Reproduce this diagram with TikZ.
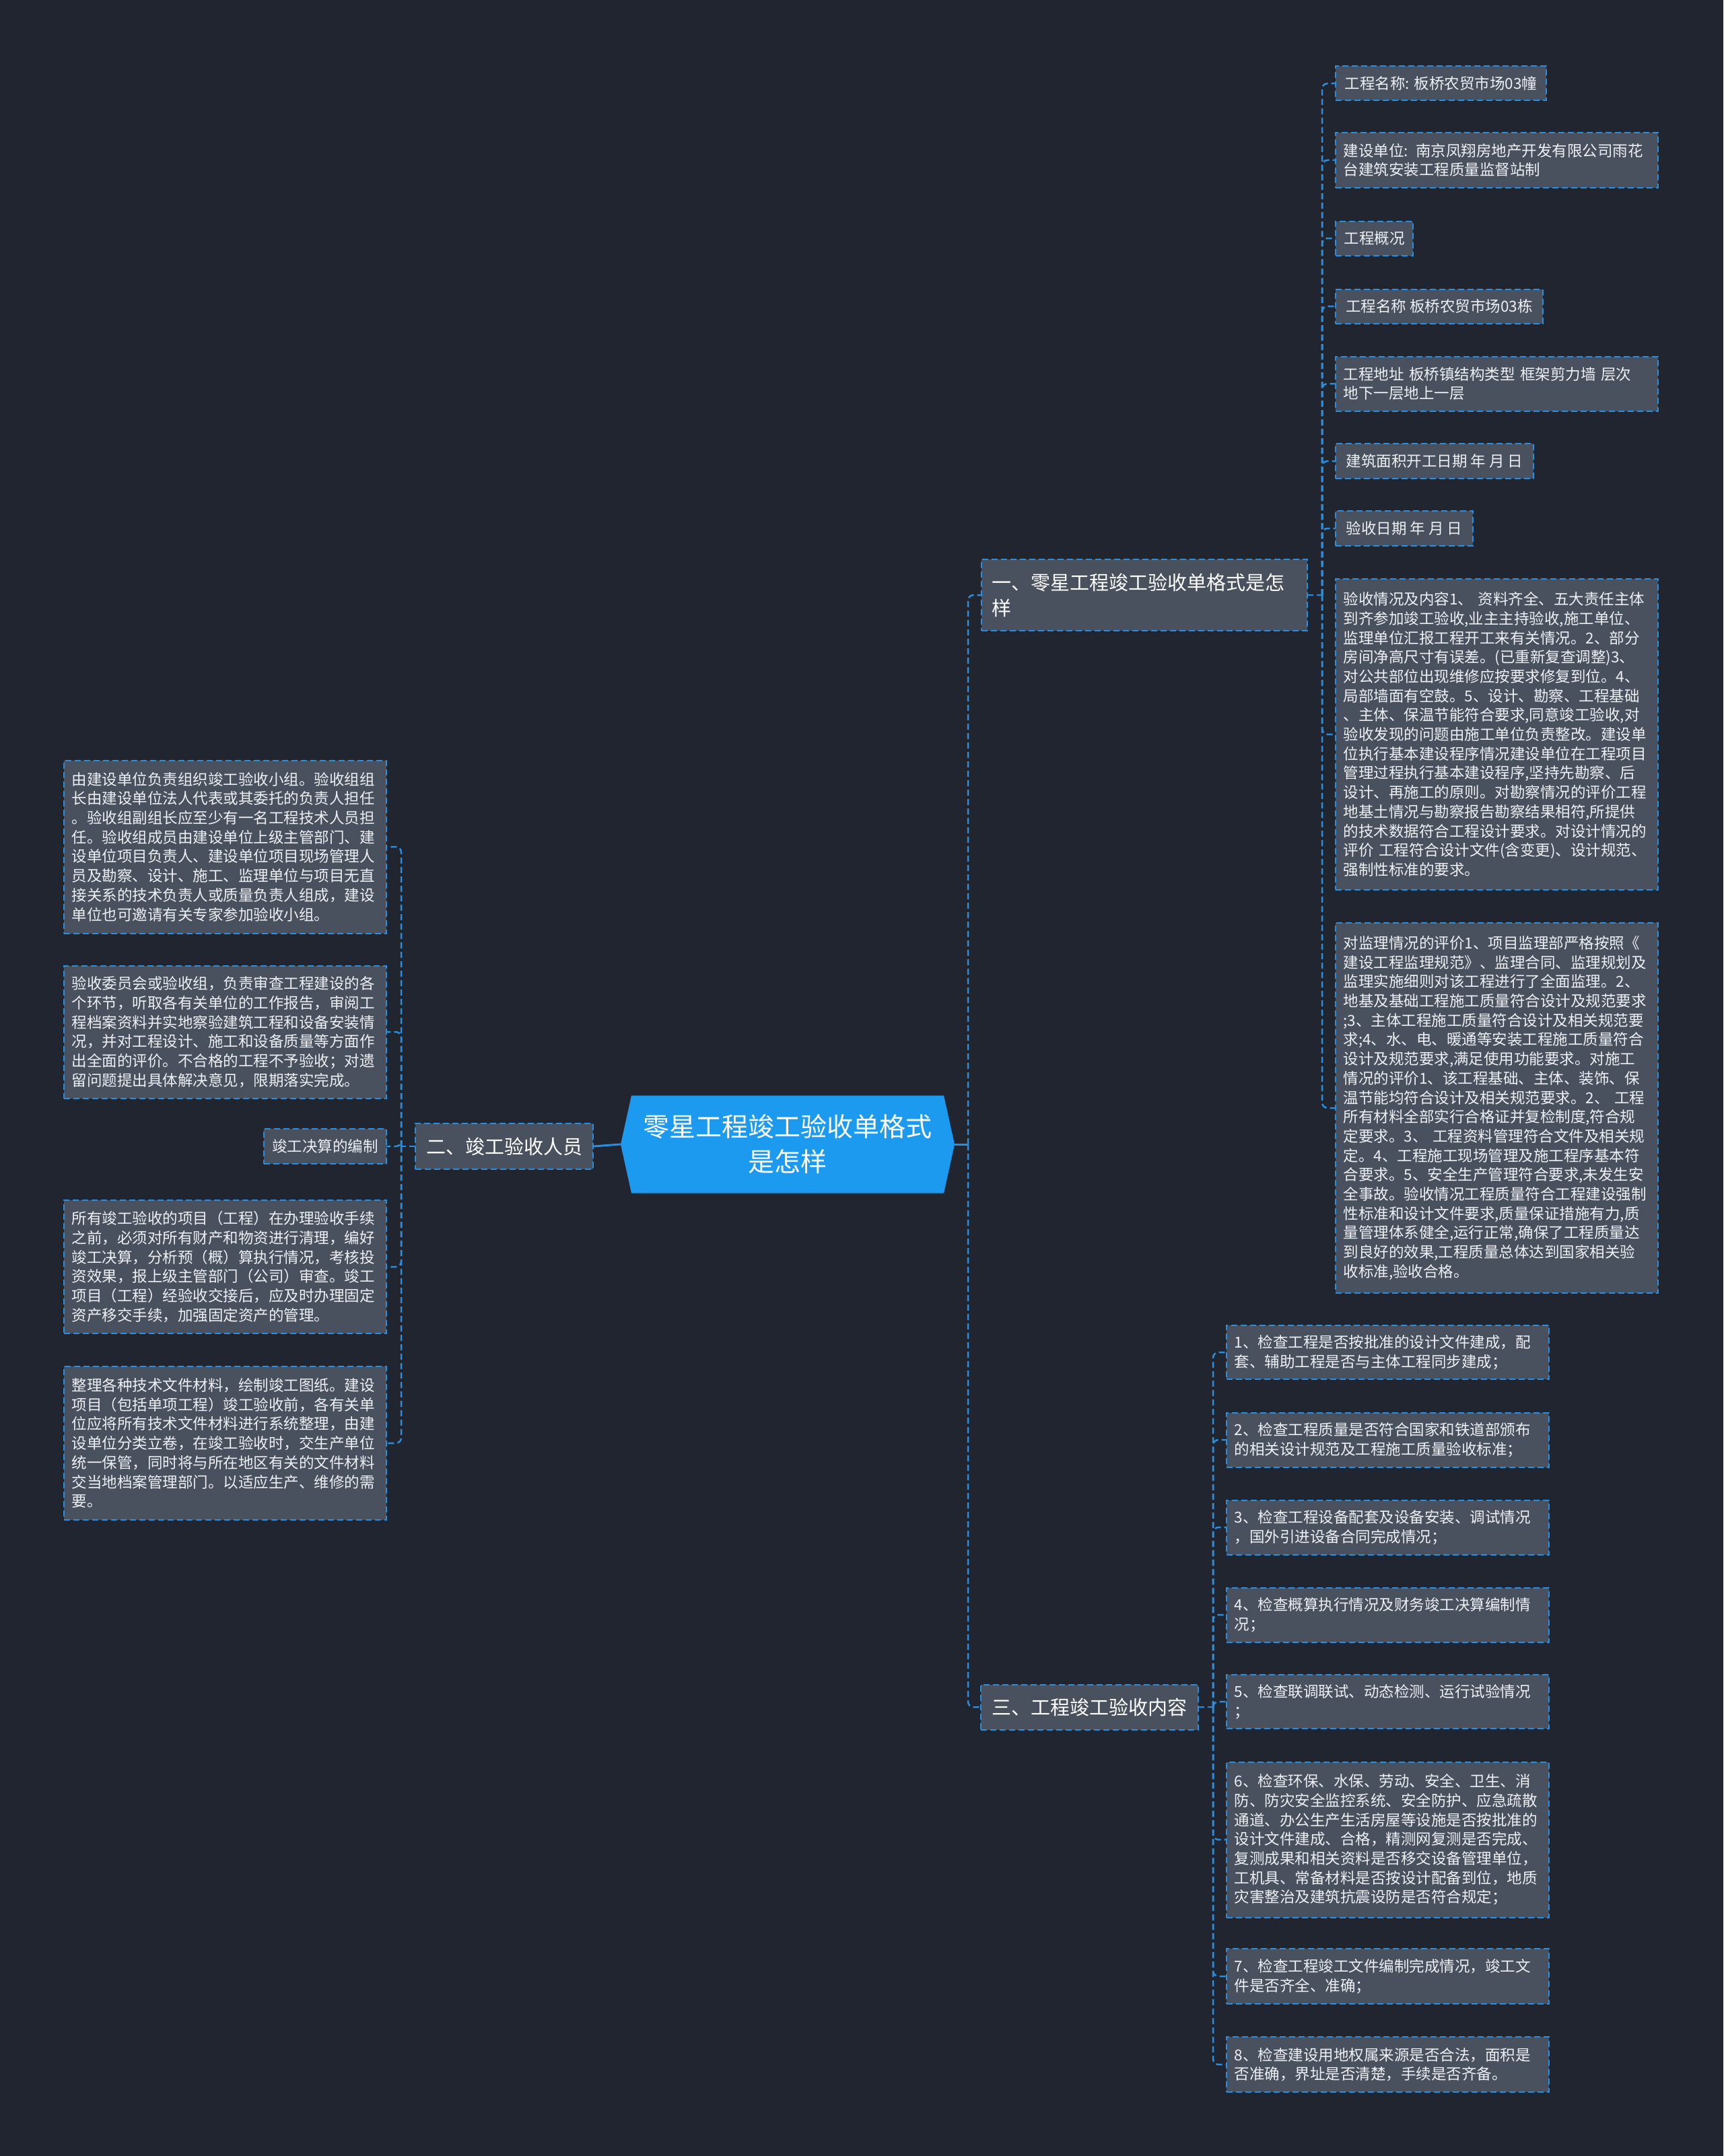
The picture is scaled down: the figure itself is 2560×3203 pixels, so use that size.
\documentclass[tikz,border=0pt]{standalone}
\usepackage{fontspec}
\setmainfont{Noto Sans CJK SC}
\usetikzlibrary{calc}
\definecolor{bg}{RGB}{33,37,48}
\definecolor{nodefill}{RGB}{73,80,94}
\definecolor{edgeblue}{RGB}{40,142,224}
\definecolor{rootfill}{RGB}{27,154,240}
\definecolor{txt}{RGB}{238,240,244}
\begin{document}
\begin{tikzpicture}[x=1pt,y=-1pt,
  leaf/.style={draw=edgeblue, line width=2pt, dash pattern=on 9pt off 5pt, fill=nodefill,
    text=txt, inner xsep=11.5pt, inner ysep=0pt, outer sep=0pt,
    font=\fontsize{22.5}{28.7}\selectfont, align=left},
  wideleaf/.style={leaf, text width=456pt},
  branch/.style={leaf, font=\fontsize{29}{38}\selectfont, inner xsep=15pt, text=white},
  conn/.style={draw=edgeblue, line width=2.5pt, dash pattern=on 9pt off 5pt, rounded corners=8pt},
  solidconn/.style={draw=edgeblue, line width=3pt},
]
\path[fill=bg] (0,0) rectangle (2560,3203);
\useasboundingbox (0,0) rectangle (2560,3203);

% root
\node[minimum width=496pt, minimum height=145pt, inner sep=0pt, outer sep=0pt] (root) at (1170,1700) {};
\fill[rootfill] (root.west) -- ($(root.north west)+(16,0)$) -- ($(root.north east)+(-16,0)$) -- (root.east)
  -- ($(root.south east)+(-16,0)$) -- ($(root.south west)+(16,0)$) -- cycle;
\node[text=white, align=center, font=\fontsize{39}{52}\selectfont] (roottext) at (root.center) {零星工程竣工验收单格式\\是怎样};

% branches
\node[branch, anchor=west, text width=454pt, minimum height=106pt] (b1) at (1458,884) {一、零星工程竣工验收单格式是怎\\样};
\node[branch, anchor=east, minimum width=264pt, minimum height=68pt] (b2) at (881,1703) {二、竣工验收人员};
\node[branch, anchor=west, minimum width=323pt, minimum height=67pt] (b3) at (1457,2536) {三、工程竣工验收内容};

% branch 1 leaves
\node[leaf, anchor=west, minimum width=313pt, minimum height=51pt] (a1) at (1984,124) {工程名称: 板桥农贸市场03幢};
\node[wideleaf, anchor=west, minimum height=82pt] (a2) at (1984,238) {建设单位: 南京凤翔房地产开发有限公司雨花\\台建筑安装工程质量监督站制};
\node[leaf, anchor=west, minimum width=115pt, minimum height=51pt] (a3) at (1984,354) {工程概况};
\node[leaf, anchor=west, minimum width=308pt, minimum height=51pt] (a4) at (1984,455) {工程名称 板桥农贸市场03栋};
\node[wideleaf, anchor=west, minimum height=81pt] (a5) at (1984,570) {工程地址 板桥镇结构类型 框架剪力墙 层次\\地下一层地上一层};
\node[leaf, anchor=west, minimum width=294pt, minimum height=52pt] (a6) at (1984,685) {建筑面积开工日期 年 月 日};
\node[leaf, anchor=west, minimum width=204pt, minimum height=52pt] (a7) at (1984,785) {验收日期 年 月 日};
\node[wideleaf, anchor=west, minimum height=462pt] (a8) at (1984,1091) {验收情况及内容1、 资料齐全、五大责任主体\\
到齐参加竣工验收,业主主持验收,施工单位、\\
监理单位汇报工程开工来有关情况。2、部分\\
房间净高尺寸有误差。(已重新复查调整)3、\\
对公共部位出现维修应按要求修复到位。4、\\
局部墙面有空鼓。5、设计、勘察、工程基础\\
、主体、保温节能符合要求,同意竣工验收,对\\
验收发现的问题由施工单位负责整改。建设单\\
位执行基本建设程序情况建设单位在工程项目\\
管理过程执行基本建设程序,坚持先勘察、后\\
设计、再施工的原则。对勘察情况的评价工程\\
地基土情况与勘察报告勘察结果相符,所提供\\
的技术数据符合工程设计要求。对设计情况的\\
评价 工程符合设计文件(含变更)、设计规范、\\
强制性标准的要求。};
\node[wideleaf, anchor=west, minimum height=550pt] (a9) at (1984,1646) {对监理情况的评价1、项目监理部严格按照《\\
建设工程监理规范》、监理合同、监理规划及\\
监理实施细则对该工程进行了全面监理。2、\\
地基及基础工程施工质量符合设计及规范要求\\
;3、主体工程施工质量符合设计及相关规范要\\
求;4、水、电、暖通等安装工程施工质量符合\\
设计及规范要求,满足使用功能要求。对施工\\
情况的评价1、该工程基础、主体、装饰、保\\
温节能均符合设计及相关规范要求。2、 工程\\
所有材料全部实行合格证并复检制度,符合规\\
定要求。3、 工程资料管理符合文件及相关规\\
定。4、工程施工现场管理及施工程序基本符\\
合要求。5、安全生产管理符合要求,未发生安\\
全事故。验收情况工程质量符合工程建设强制\\
性标准和设计文件要求,质量保证措施有力,质\\
量管理体系健全,运行正常,确保了工程质量达\\
到良好的效果,工程质量总体达到国家相关验\\
收标准,验收合格。};

% branch 2 leaves
\node[wideleaf, anchor=east, minimum height=257pt] (p1) at (574,1258) {由建设单位负责组织竣工验收小组。验收组组\\
长由建设单位法人代表或其委托的负责人担任\\
。验收组副组长应至少有一名工程技术人员担\\
任。验收组成员由建设单位上级主管部门、建\\
设单位项目负责人、建设单位项目现场管理人\\
员及勘察、设计、施工、监理单位与项目无直\\
接关系的技术负责人或质量负责人组成，建设\\
单位也可邀请有关专家参加验收小组。};
\node[wideleaf, anchor=east, minimum height=197pt] (p2) at (574,1533) {验收委员会或验收组，负责审查工程建设的各\\
个环节，听取各有关单位的工作报告，审阅工\\
程档案资料并实地察验建筑工程和设备安装情\\
况，并对工程设计、施工和设备质量等方面作\\
出全面的评价。不合格的工程不予验收；对遗\\
留问题提出具体解决意见，限期落实完成。};
\node[leaf, anchor=east, minimum width=182pt, minimum height=52pt] (p3) at (574,1703) {竣工决算的编制};
\node[wideleaf, anchor=east, minimum height=198pt] (p4) at (574,1882) {所有竣工验收的项目（工程）在办理验收手续\\
之前，必须对所有财产和物资进行清理，编好\\
竣工决算，分析预（概）算执行情况，考核投\\
资效果，报上级主管部门（公司）审查。竣工\\
项目（工程）经验收交接后，应及时办理固定\\
资产移交手续，加强固定资产的管理。};
\node[wideleaf, anchor=east, minimum height=228pt] (p5) at (574,2144) {整理各种技术文件材料，绘制竣工图纸。建设\\
项目（包括单项工程）竣工验收前，各有关单\\
位应将所有技术文件材料进行系统整理，由建\\
设单位分类立卷，在竣工验收时，交生产单位\\
统一保管，同时将与所在地区有关的文件材料\\
交当地档案管理部门。以适应生产、维修的需\\
要。};

% branch 3 leaves
\node[wideleaf, anchor=west, minimum height=80pt] (r1) at (1822,2009) {1、检查工程是否按批准的设计文件建成，配\\套、辅助工程是否与主体工程同步建成；};
\node[wideleaf, anchor=west, minimum height=81pt] (r2) at (1822,2139) {2、检查工程质量是否符合国家和铁道部颁布\\的相关设计规范及工程施工质量验收标准；};
\node[wideleaf, anchor=west, minimum height=81pt] (r3) at (1822,2269) {3、检查工程设备配套及设备安装、调试情况\\，国外引进设备合同完成情况；};
\node[wideleaf, anchor=west, minimum height=81pt] (r4) at (1822,2399) {4、检查概算执行情况及财务竣工决算编制情\\况；};
\node[wideleaf, anchor=west, minimum height=80pt] (r5) at (1822,2528) {5、检查联调联试、动态检测、运行试验情况\\；};
\node[wideleaf, anchor=west, minimum height=231pt] (r6) at (1822,2733) {6、检查环保、水保、劳动、安全、卫生、消\\
防、防灾安全监控系统、安全防护、应急疏散\\
通道、办公生产生活房屋等设施是否按批准的\\
设计文件建成、合格，精测网复测是否完成、\\
复测成果和相关资料是否移交设备管理单位，\\
工机具、常备材料是否按设计配备到位，地质\\
灾害整治及建筑抗震设防是否符合规定；};
\node[wideleaf, anchor=west, minimum height=82pt] (r7) at (1822,2936) {7、检查工程竣工文件编制完成情况，竣工文\\件是否齐全、准确；};
\node[wideleaf, anchor=west, minimum height=82pt] (r8) at (1822,3067) {8、检查建设用地权属来源是否合法，面积是\\否准确，界址是否清楚，手续是否齐备。};

% connectors
\coordinate (j1) at (1438,1700);
\draw[solidconn] (root.east) -- (j1);
\draw[conn] (j1) |- (b1.west);
\draw[conn] (j1) |- (b3.west);
\draw[solidconn] (root.west) -- (b2.east);

\coordinate (j2) at (1964,884);
\draw[conn] (b1.east) -- (j2);
\foreach \n in {a1,a2,a3,a4,a5,a6,a7,a8,a9} \draw[conn] (j2) |- (\n.west);

\coordinate (j3) at (596,1703);
\draw[conn] (b2.west) -- (j3);
\foreach \n in {p1,p2,p3,p4,p5} \draw[conn] (j3) |- (\n.east);

\coordinate (j4) at (1802,2536);
\draw[conn] (b3.east) -- (j4);
\foreach \n in {r1,r2,r3,r4,r5,r6,r7,r8} \draw[conn] (j4) |- (\n.west);
\end{tikzpicture}
\end{document}
